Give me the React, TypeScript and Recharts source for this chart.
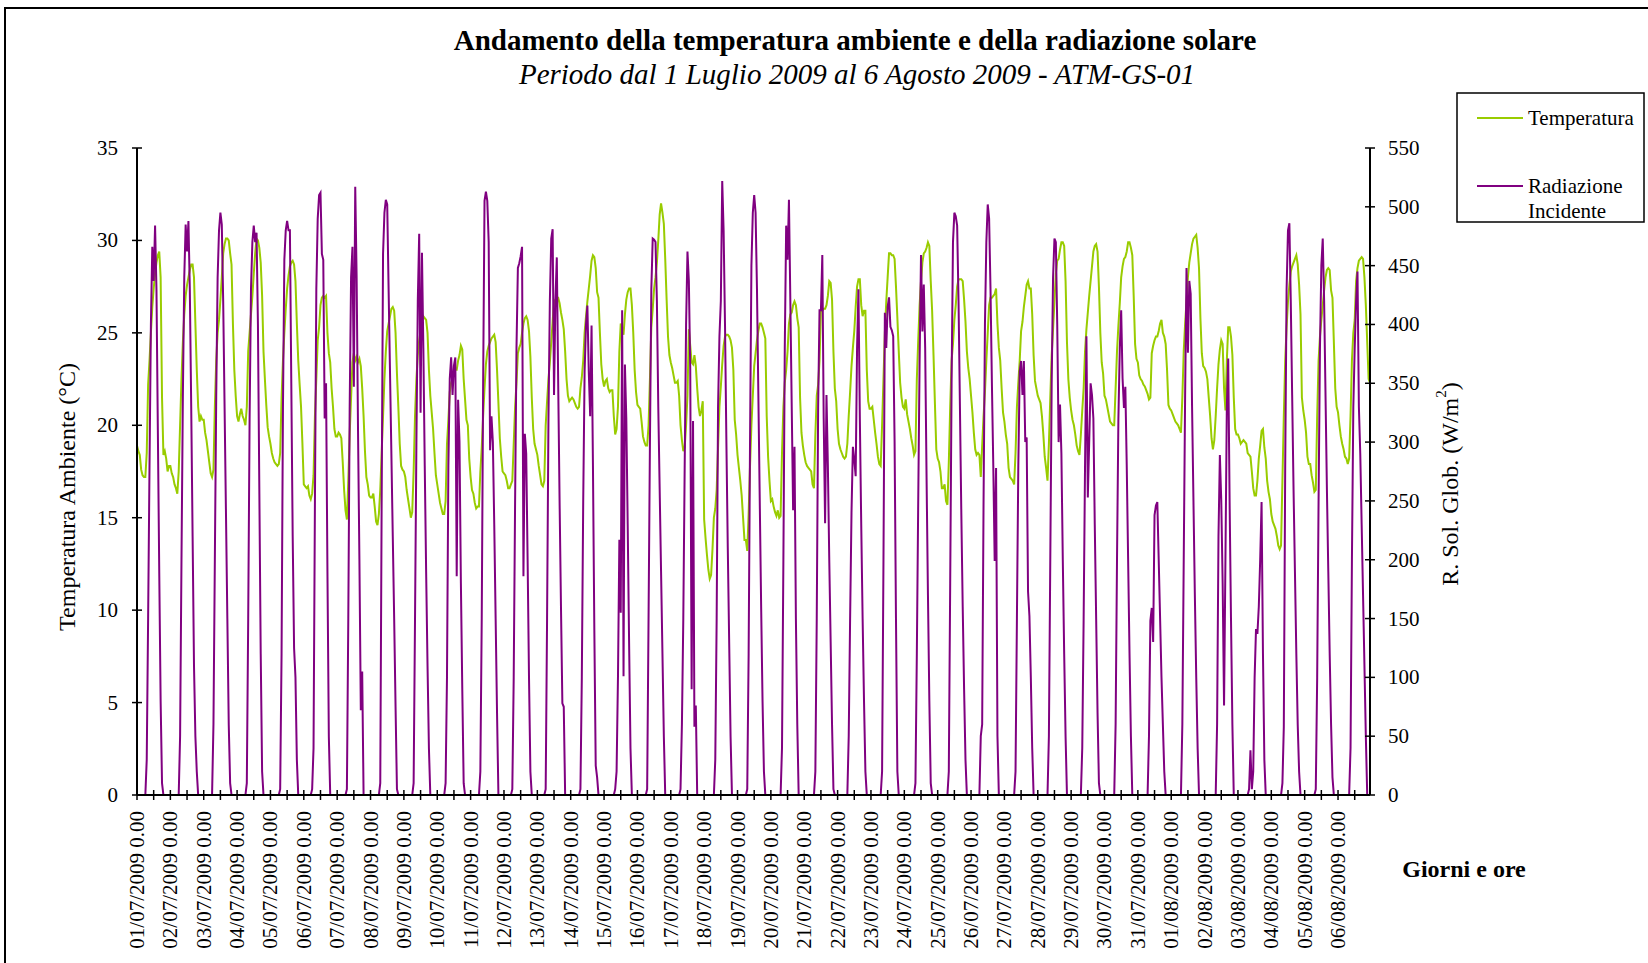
import React from "react";
import { LineChart, Line, XAxis, YAxis } from "recharts";

const SERIF = '"Liberation Serif", "Times New Roman", serif';

const dayLabels = [
  "01/07/2009 0.00", "02/07/2009 0.00", "03/07/2009 0.00", "04/07/2009 0.00",
  "05/07/2009 0.00", "06/07/2009 0.00", "07/07/2009 0.00", "08/07/2009 0.00",
  "09/07/2009 0.00", "10/07/2009 0.00", "11/07/2009 0.00", "12/07/2009 0.00",
  "13/07/2009 0.00", "14/07/2009 0.00", "15/07/2009 0.00", "16/07/2009 0.00",
  "17/07/2009 0.00", "18/07/2009 0.00", "19/07/2009 0.00", "20/07/2009 0.00",
  "21/07/2009 0.00", "22/07/2009 0.00", "23/07/2009 0.00", "24/07/2009 0.00",
  "25/07/2009 0.00", "26/07/2009 0.00", "27/07/2009 0.00", "28/07/2009 0.00",
  "29/07/2009 0.00", "30/07/2009 0.00", "31/07/2009 0.00", "01/08/2009 0.00",
  "02/08/2009 0.00", "03/08/2009 0.00", "04/08/2009 0.00", "05/08/2009 0.00",
  "06/08/2009 0.00",
];

// temperatura ambiente (°C), valori orari 0-23, una riga per giorno
const temperatura: number[] = [
  18.9, 18.6, 18.4, 17.6, 17.3, 17.2, 17.2, 18.5, 22.2, 23.5, 25.0, 26.4, 27.4, 28.2, 28.8, 29.2, 29.4, 28.0, 21.5, 18.4, 18.6, 18.2, 17.5, 17.8, // 01/07
  17.8, 17.4, 17.2, 16.8, 16.6, 16.3, 17.5, 20.0, 22.5, 24.5, 26.0, 27.0, 27.6, 28.0, 28.4, 28.7, 28.7, 28.0, 25.5, 23.0, 21.0, 20.2, 20.5, 20.3, // 02/07
  20.3, 19.6, 19.2, 18.6, 18.0, 17.4, 17.2, 17.6, 21.0, 23.5, 25.0, 25.7, 26.8, 28.0, 29.3, 29.8, 30.1, 30.1, 30.0, 29.3, 28.7, 25.5, 23.0, 21.6, // 03/07
  20.5, 20.2, 20.6, 20.9, 20.5, 20.3, 20.0, 21.0, 24.0, 25.0, 26.0, 27.0, 28.2, 29.3, 30.1, 30.0, 29.6, 28.8, 27.0, 24.0, 22.5, 21.1, 19.9, 19.4, // 04/07
  19.0, 18.5, 18.2, 18.0, 17.9, 17.8, 17.9, 18.5, 21.5, 23.5, 25.0, 26.3, 27.4, 28.1, 28.6, 28.8, 28.9, 28.7, 27.8, 25.5, 23.5, 22.2, 21.0, 19.0, // 05/07
  16.8, 16.7, 16.6, 16.7, 16.2, 16.0, 16.3, 17.3, 20.5, 22.5, 24.6, 25.3, 26.5, 26.9, 27.0, 26.9, 27.0, 25.0, 23.9, 23.4, 22.0, 21.0, 19.8, 19.4, // 06/07
  19.4, 19.6, 19.5, 19.3, 18.0, 16.5, 15.4, 14.9, 17.0, 19.5, 21.5, 23.4, 23.9, 23.5, 23.7, 23.4, 23.6, 23.2, 22.0, 20.5, 18.6, 17.2, 16.8, 16.2, // 07/07
  16.1, 16.1, 16.3, 15.6, 14.8, 14.6, 15.2, 16.5, 18.5, 20.5, 22.5, 24.0, 25.1, 25.5, 25.9, 26.3, 26.4, 26.2, 25.0, 22.8, 21.0, 19.0, 17.8, 17.6, // 08/07
  17.5, 17.2, 16.5, 16.0, 15.5, 15.0, 15.3, 17.5, 20.5, 22.5, 23.8, 24.6, 25.1, 25.6, 25.9, 25.8, 25.7, 25.0, 23.0, 21.6, 20.7, 19.8, 18.5, 17.3, // 09/07
  16.8, 16.3, 15.8, 15.5, 15.2, 15.2, 15.9, 19.0, 20.3, 21.8, 22.3, 22.5, 22.8, 23.0, 23.0, 23.5, 23.8, 24.3, 24.1, 22.5, 21.4, 20.3, 20.0, 18.2, // 10/07
  17.2, 16.5, 16.3, 15.8, 15.5, 15.6, 15.6, 17.5, 18.8, 20.5, 22.0, 23.3, 24.0, 24.3, 24.5, 24.7, 24.8, 24.9, 24.5, 23.0, 21.2, 19.3, 18.3, 17.5, // 11/07
  17.4, 17.3, 17.0, 16.6, 16.6, 16.8, 17.0, 19.0, 21.0, 22.3, 23.9, 24.2, 24.4, 25.0, 25.5, 25.8, 25.9, 25.7, 25.1, 23.7, 21.5, 19.8, 19.0, 18.7, // 12/07
  18.4, 17.8, 17.3, 16.8, 16.7, 17.0, 20.0, 21.3, 22.5, 23.4, 24.5, 25.6, 26.7, 26.8, 26.9, 26.9, 26.6, 26.1, 25.7, 25.2, 24.0, 22.5, 21.6, 21.3, // 13/07
  21.4, 21.5, 21.4, 21.2, 21.0, 20.9, 21.0, 22.0, 22.6, 23.5, 25.0, 25.9, 26.7, 27.4, 28.1, 28.9, 29.2, 29.1, 28.5, 27.2, 26.9, 25.0, 23.3, 22.5, // 14/07
  22.1, 22.4, 22.5, 22.0, 21.8, 21.9, 21.9, 20.5, 19.5, 19.8, 21.0, 24.0, 25.5, 25.3, 24.9, 26.0, 26.8, 27.2, 27.4, 27.4, 26.5, 25.0, 23.0, 21.8, // 15/07
  21.1, 21.0, 20.9, 20.2, 19.4, 19.1, 18.9, 18.9, 20.0, 22.5, 25.3, 26.3, 27.4, 28.0, 28.8, 30.0, 31.4, 32.0, 31.5, 30.9, 29.0, 26.8, 24.8, 23.8, // 16/07
  23.4, 23.1, 22.7, 22.3, 22.3, 22.4, 21.6, 20.0, 19.2, 18.6, 18.8, 20.0, 21.6, 25.2, 24.3, 23.4, 23.3, 23.8, 23.2, 22.0, 21.0, 20.5, 20.8, 21.3, // 17/07
  14.9, 13.9, 13.0, 12.2, 11.7, 11.9, 13.3, 15.0, 15.5, 16.5, 18.8, 21.0, 22.1, 23.3, 24.3, 24.8, 24.9, 24.9, 24.8, 24.6, 24.2, 23.0, 20.3, 19.5, // 18/07
  18.4, 17.7, 17.0, 16.2, 15.0, 13.8, 13.8, 13.2, 15.2, 17.8, 20.0, 21.6, 23.2, 23.9, 24.6, 25.1, 25.5, 25.5, 25.3, 25.0, 24.7, 20.5, 18.3, 17.0, // 19/07
  15.9, 16.0, 15.6, 15.3, 15.1, 15.4, 15.0, 15.1, 18.5, 21.0, 22.3, 23.0, 24.0, 25.5, 26.0, 26.1, 26.5, 26.7, 26.5, 25.8, 25.3, 21.5, 19.6, 18.9, // 20/07
  18.4, 18.0, 17.8, 17.7, 17.6, 17.5, 16.8, 16.6, 19.5, 21.6, 22.2, 23.5, 26.2, 26.2, 26.3, 26.3, 26.5, 27.0, 27.8, 27.7, 26.8, 24.0, 22.0, 21.3, // 21/07
  19.8, 19.0, 18.7, 18.5, 18.3, 18.2, 18.3, 19.0, 20.5, 21.8, 23.2, 24.2, 25.1, 26.4, 27.5, 27.9, 27.9, 26.5, 25.9, 26.2, 26.2, 23.0, 21.3, 20.9, // 22/07
  20.9, 21.0, 20.3, 19.6, 19.0, 18.3, 17.9, 17.8, 20.0, 22.5, 25.0, 26.7, 28.0, 29.3, 29.3, 29.2, 29.2, 29.0, 27.5, 25.8, 24.0, 22.3, 21.5, 21.0, // 23/07
  20.9, 21.4, 20.6, 20.2, 19.8, 19.3, 18.9, 18.4, 18.6, 22.5, 24.6, 26.5, 27.8, 28.8, 29.3, 29.4, 29.6, 29.9, 29.7, 27.8, 26.2, 23.8, 21.2, 18.7, // 24/07
  18.2, 18.0, 17.5, 16.6, 16.6, 16.8, 15.9, 15.7, 18.0, 21.0, 23.5, 24.4, 25.7, 26.5, 27.5, 27.9, 27.9, 27.9, 27.8, 26.8, 25.6, 24.0, 23.1, 22.5, // 25/07
  21.6, 20.7, 19.6, 18.7, 18.4, 18.5, 18.4, 17.2, 18.9, 20.5, 21.8, 23.5, 25.0, 26.5, 26.9, 26.9, 27.0, 27.1, 27.4, 25.5, 24.2, 23.5, 22.0, 20.7, // 26/07
  20.2, 19.5, 19.0, 17.7, 17.2, 17.1, 17.0, 16.8, 18.5, 21.0, 22.3, 23.5, 25.1, 25.6, 26.4, 27.0, 27.6, 27.8, 27.4, 27.4, 26.0, 23.8, 22.4, 22.0, // 27/07
  21.6, 21.4, 21.2, 20.5, 19.5, 18.3, 17.7, 17.0, 19.0, 21.5, 23.8, 25.2, 26.7, 28.2, 28.9, 29.0, 29.5, 29.9, 29.9, 29.7, 27.8, 24.5, 22.5, 21.5, // 28/07
  20.8, 20.3, 20.0, 19.5, 18.9, 18.6, 18.4, 19.5, 20.8, 22.0, 24.0, 25.2, 26.1, 27.0, 27.8, 28.6, 29.4, 29.7, 29.8, 29.4, 27.5, 25.0, 23.4, 22.8, // 29/07
  21.6, 21.4, 21.0, 20.6, 20.2, 20.1, 20.0, 20.0, 22.0, 24.0, 25.4, 26.6, 28.0, 28.6, 29.0, 29.1, 29.4, 29.9, 29.9, 29.6, 29.2, 27.0, 24.4, 23.6, // 30/07
  23.4, 22.7, 22.5, 22.4, 22.2, 22.1, 21.9, 21.7, 21.4, 21.5, 23.9, 24.3, 24.6, 24.8, 24.8, 25.1, 25.5, 25.7, 25.0, 24.8, 24.4, 23.0, 21.1, 20.9, // 31/07
  20.8, 20.6, 20.4, 20.2, 20.1, 20.0, 19.8, 19.6, 21.5, 24.0, 25.5, 26.7, 28.0, 28.8, 29.3, 29.8, 30.1, 30.2, 30.3, 29.6, 28.5, 25.8, 23.9, 23.2, // 01/08
  23.1, 22.9, 22.5, 21.5, 20.5, 19.3, 18.7, 19.2, 20.5, 22.0, 23.3, 24.1, 24.6, 24.4, 22.0, 20.8, 23.5, 25.3, 25.3, 24.8, 23.8, 21.5, 19.8, 19.5, // 02/08
  19.5, 19.3, 19.0, 19.1, 19.2, 19.1, 19.0, 18.5, 18.4, 18.3, 17.5, 16.6, 16.2, 16.2, 17.0, 18.2, 18.9, 19.7, 19.8, 18.8, 18.2, 17.0, 16.4, 16.0, // 03/08
  15.2, 14.8, 14.6, 14.4, 14.0, 13.5, 13.3, 13.5, 17.0, 20.5, 23.5, 25.3, 26.7, 27.6, 28.3, 28.6, 28.8, 29.0, 29.2, 28.7, 27.6, 26.0, 21.5, 20.8, // 04/08
  20.3, 19.6, 18.3, 17.9, 17.9, 17.3, 16.9, 16.4, 16.5, 20.5, 23.5, 24.8, 25.7, 26.5, 27.3, 28.0, 28.4, 28.5, 28.4, 27.3, 26.9, 24.5, 22.0, 21.0, // 05/08
  20.7, 20.0, 19.4, 19.0, 18.7, 18.3, 18.2, 17.9, 18.2, 20.5, 23.5, 25.0, 25.7, 27.8, 28.5, 28.9, 29.0, 29.1, 29.0, 28.0, 26.5, 24.5, 22.5, 22.3, // 06/08
];

// radiazione solare globale incidente (W/m2), valori orari 0-23
const radiazione: number[] = [
  0, 0, 0, 0, 0, 0, 0, 30, 150, 280, 400, 466, 437, 484, 430, 310, 190, 80, 10, 0, 0, 0, 0, 0, // 01/07
  0, 0, 0, 0, 0, 0, 0, 50, 200, 340, 440, 485, 462, 488, 430, 330, 220, 110, 50, 20, 0, 0, 0, 0, // 02/07
  0, 0, 0, 0, 0, 0, 0, 60, 200, 340, 440, 480, 495, 485, 420, 330, 240, 150, 60, 10, 0, 0, 0, 0, // 03/07
  0, 0, 0, 0, 0, 0, 0, 10, 150, 320, 430, 470, 484, 470, 478, 400, 260, 120, 20, 0, 0, 0, 0, 0, // 04/07
  0, 0, 0, 0, 0, 0, 0, 5, 120, 330, 455, 480, 488, 480, 480, 350, 220, 125, 100, 30, 0, 0, 0, 0, // 05/07
  0, 0, 0, 0, 0, 0, 5, 40, 250, 430, 490, 510, 512, 460, 455, 320, 350, 190, 50, 0, 0, 0, 0, 0, // 06/07
  0, 0, 0, 0, 0, 0, 0, 5, 150, 330, 440, 466, 347, 517, 440, 310, 200, 72, 105, 0, 0, 0, 0, 0, // 07/07
  0, 0, 0, 0, 0, 0, 0, 10, 250, 460, 495, 506, 502, 430, 360, 290, 220, 150, 75, 5, 0, 0, 0, 0, // 08/07
  0, 0, 0, 0, 0, 0, 0, 10, 150, 300, 420, 477, 325, 461, 380, 280, 190, 110, 40, 0, 0, 0, 0, 0, // 09/07
  0, 0, 0, 0, 0, 0, 10, 100, 280, 354, 372, 340, 365, 372, 186, 336, 300, 180, 90, 10, 0, 0, 0, 0, // 10/07
  0, 0, 0, 0, 0, 0, 0, 20, 150, 350, 505, 513, 505, 470, 293, 322, 300, 230, 150, 70, 0, 0, 0, 0, // 11/07
  0, 0, 0, 0, 0, 0, 5, 100, 250, 380, 448, 452, 458, 466, 186, 307, 290, 200, 100, 20, 0, 0, 0, 0, // 12/07
  0, 0, 0, 0, 0, 0, 5, 150, 320, 420, 473, 481, 340, 420, 457, 350, 250, 160, 78, 75, 0, 0, 0, 0, // 13/07
  0, 0, 0, 0, 0, 0, 0, 5, 100, 250, 360, 400, 416, 360, 322, 399, 280, 140, 25, 15, 0, 0, 0, 0, // 14/07
  0, 0, 0, 0, 0, 0, 0, 0, 5, 20, 100, 217, 155, 412, 101, 366, 320, 230, 130, 40, 0, 0, 0, 0, // 15/07
  0, 0, 0, 0, 0, 0, 0, 5, 150, 300, 430, 473, 472, 470, 420, 330, 260, 190, 120, 50, 0, 0, 0, 0, // 16/07
  0, 0, 0, 0, 0, 0, 0, 5, 60, 150, 280, 400, 462, 437, 361, 90, 318, 58, 76, 0, 0, 0, 0, 0, // 17/07
  0, 0, 0, 0, 0, 0, 0, 0, 30, 150, 330, 390, 420, 522, 480, 400, 300, 210, 130, 50, 0, 0, 0, 0, // 18/07
  0, 0, 0, 0, 0, 0, 0, 5, 120, 300, 450, 495, 510, 495, 430, 340, 250, 160, 80, 20, 0, 0, 0, 0, // 19/07
  0, 0, 0, 0, 0, 0, 0, 0, 40, 200, 380, 484, 455, 506, 420, 330, 242, 296, 150, 60, 0, 0, 0, 0, // 20/07
  0, 0, 0, 0, 0, 0, 0, 0, 20, 150, 330, 412, 412, 459, 320, 231, 340, 280, 200, 130, 60, 5, 0, 0, // 21/07
  0, 0, 0, 0, 0, 0, 0, 0, 50, 150, 240, 296, 285, 271, 380, 430, 320, 230, 150, 80, 20, 0, 0, 0, // 22/07
  0, 0, 0, 0, 0, 0, 0, 0, 20, 200, 410, 380, 415, 423, 398, 395, 390, 300, 150, 20, 0, 0, 0, 0, // 23/07
  0, 0, 0, 0, 0, 0, 0, 0, 10, 120, 250, 370, 459, 394, 434, 380, 270, 170, 80, 10, 0, 0, 0, 0, // 24/07
  0, 0, 0, 0, 0, 0, 0, 0, 20, 180, 350, 470, 495, 492, 484, 420, 330, 240, 160, 90, 30, 0, 0, 0, // 25/07
  0, 0, 0, 0, 0, 0, 0, 50, 60, 250, 400, 470, 502, 490, 430, 350, 280, 199, 278, 50, 0, 0, 0, 0, // 26/07
  0, 0, 0, 0, 0, 0, 0, 0, 20, 150, 280, 360, 369, 340, 369, 300, 304, 173, 152, 100, 40, 0, 0, 0, // 27/07
  0, 0, 0, 0, 0, 0, 0, 0, 50, 200, 350, 440, 473, 470, 400, 300, 332, 290, 200, 120, 50, 0, 0, 0, // 28/07
  0, 0, 0, 0, 0, 0, 0, 0, 40, 150, 280, 390, 253, 300, 350, 340, 320, 230, 150, 70, 10, 0, 0, 0, // 29/07
  0, 0, 0, 0, 0, 0, 0, 0, 60, 200, 320, 380, 412, 354, 329, 347, 280, 200, 120, 50, 0, 0, 0, 0, // 30/07
  0, 0, 0, 0, 0, 0, 0, 0, 50, 148, 159, 130, 238, 246, 249, 200, 150, 100, 60, 20, 0, 0, 0, 0, // 31/07
  0, 0, 0, 0, 0, 0, 0, 0, 60, 200, 340, 448, 376, 437, 426, 330, 250, 170, 100, 40, 0, 0, 0, 0, // 01/08
  0, 0, 0, 0, 0, 0, 0, 0, 0, 60, 220, 289, 250, 180, 76, 200, 330, 371, 250, 150, 60, 0, 0, 0, // 02/08
  0, 0, 0, 0, 0, 0, 0, 0, 5, 38, 5, 20, 100, 141, 137, 160, 200, 249, 120, 30, 0, 0, 0, 0, // 03/08
  0, 0, 0, 0, 0, 0, 0, 0, 10, 58, 280, 430, 480, 486, 420, 340, 260, 190, 120, 60, 20, 0, 0, 0, // 04/08
  0, 0, 0, 0, 0, 0, 0, 0, 5, 100, 250, 380, 450, 473, 420, 340, 260, 190, 120, 60, 15, 0, 0, 0, // 05/08
  0, 0, 0, 0, 0, 0, 0, 0, 0, 40, 200, 330, 380, 420, 445, 330, 290, 230, 170, 110, 50, 0, 0, 0, // 06/08
];

const tempTicks = [0, 5, 10, 15, 20, 25, 30, 35];
const radTicks = [0, 50, 100, 150, 200, 250, 300, 350, 400, 450, 500, 550];

// one tick every 12 hours, label only at midnight
const xTicks = dayLabels.flatMap((_, d) => [d * 24, d * 24 + 12]);

const data = temperatura.map((t, i) => ({ i, t, r: radiazione[i] }));

const XTick = (props: any) => {
  const { x, y, payload } = props;
  const v = payload.value as number;
  const label = v % 24 === 0 ? dayLabels[v / 24] : null;
  const ly = y + 16;
  return (
    <g>
      <line x1={x} x2={x} y1={y - 5} y2={y + 5} stroke="#000" strokeWidth={1.5} />
      {label && (
        <text
          x={x}
          y={ly}
          transform={`rotate(-90 ${x} ${ly})`}
          textAnchor="end"
          dominantBaseline="central"
          fontSize={21}
          fontFamily={SERIF}
          fill="#000"
        >
          {label}
        </text>
      )}
    </g>
  );
};

const LeftTick = (props: any) => {
  const { x, y, payload } = props;
  return (
    <g>
      <line x1={x - 5} x2={x + 5} y1={y} y2={y} stroke="#000" strokeWidth={1.5} />
      <text x={x - 19} y={y} textAnchor="end" dominantBaseline="central" fontSize={21} fontFamily={SERIF} fill="#000">
        {payload.value}
      </text>
    </g>
  );
};

const RightTick = (props: any) => {
  const { x, y, payload } = props;
  return (
    <g>
      <line x1={x - 5} x2={x + 5} y1={y} y2={y} stroke="#000" strokeWidth={1.5} />
      <text x={x + 18} y={y} textAnchor="start" dominantBaseline="central" fontSize={21} fontFamily={SERIF} fill="#000">
        {payload.value}
      </text>
    </g>
  );
};

export default function App() {
  return (
    <div
      style={{
        position: "absolute",
        left: 0,
        top: 0,
        width: 1648,
        height: 963,
        overflow: "hidden",
        background: "#fff",
        fontFamily: SERIF,
      }}
    >
      <div
        style={{
          position: "absolute",
          left: 4,
          top: 7,
          width: 1700,
          height: 1100,
          border: "2px solid #000",
        }}
      />
      <div style={{ position: "absolute", left: 0, top: 0 }}>
        <LineChart width={1648} height={963} data={data} margin={{ top: 148, right: 0, bottom: 0, left: 0 }}>
          <XAxis
            dataKey="i"
            type="number"
            domain={[0, 887]}
            ticks={xTicks}
            interval={0}
            height={168}
            tickSize={0}
            tickMargin={0}
            tickLine={false}
            tick={<XTick />}
            axisLine={{ stroke: "#000", strokeWidth: 2 }}
          />
          <YAxis
            yAxisId="left"
            orientation="left"
            width={137}
            domain={[0, 35]}
            ticks={tempTicks}
            interval={0}
            tickSize={0}
            tickMargin={0}
            tickLine={false}
            tick={<LeftTick />}
            axisLine={{ stroke: "#000", strokeWidth: 2 }}
          />
          <YAxis
            yAxisId="right"
            orientation="right"
            width={278}
            domain={[0, 550]}
            ticks={radTicks}
            interval={0}
            tickSize={0}
            tickMargin={0}
            tickLine={false}
            tick={<RightTick />}
            axisLine={{ stroke: "#000", strokeWidth: 2 }}
          />
          <Line
            yAxisId="left"
            type="linear"
            dataKey="t"
            stroke="#99CC00"
            strokeWidth={2}
            dot={false}
            isAnimationActive={false}
          />
          <Line
            yAxisId="right"
            type="linear"
            dataKey="r"
            stroke="#800080"
            strokeWidth={2}
            dot={false}
            isAnimationActive={false}
          />
        </LineChart>
      </div>
      <svg
        width={1648}
        height={963}
        style={{ position: "absolute", left: 0, top: 0, pointerEvents: "none" }}
        fontFamily={SERIF}
      >
        <text x={855} y={40} textAnchor="middle" dominantBaseline="central" fontSize={29} fontWeight="bold">
          Andamento della temperatura ambiente e della radiazione solare
        </text>
        <text x={857} y={74} textAnchor="middle" dominantBaseline="central" fontSize={29} fontStyle="italic">
          Periodo dal 1 Luglio 2009 al 6 Agosto 2009 - ATM-GS-01
        </text>
        <text transform="translate(67,497) rotate(-90)" textAnchor="middle" dominantBaseline="central" fontSize={24}>
          Temperatura Ambiente (°C)
        </text>
        <text transform="translate(1450,484) rotate(-90)" textAnchor="middle" dominantBaseline="central" fontSize={24}>
          R. Sol. Glob. (W/m
          <tspan dy={-9} fontSize={15}>2</tspan>
          <tspan dy={9}>)</tspan>
        </text>
        <text x={1464} y={869} textAnchor="middle" dominantBaseline="central" fontSize={24} fontWeight="bold">
          Giorni e ore
        </text>
        <rect x={1457} y={93} width={187} height={129} fill="#fff" stroke="#000" strokeWidth={1.5} />
        <line x1={1477} x2={1523} y1={118} y2={118} stroke="#99CC00" strokeWidth={2} />
        <text x={1528} y={118} dominantBaseline="central" fontSize={21}>
          Temperatura
        </text>
        <line x1={1477} x2={1523} y1={186} y2={186} stroke="#800080" strokeWidth={2} />
        <text x={1528} y={186} dominantBaseline="central" fontSize={21}>
          Radiazione
        </text>
        <text x={1528} y={211} dominantBaseline="central" fontSize={21}>
          Incidente
        </text>
      </svg>
    </div>
  );
}
